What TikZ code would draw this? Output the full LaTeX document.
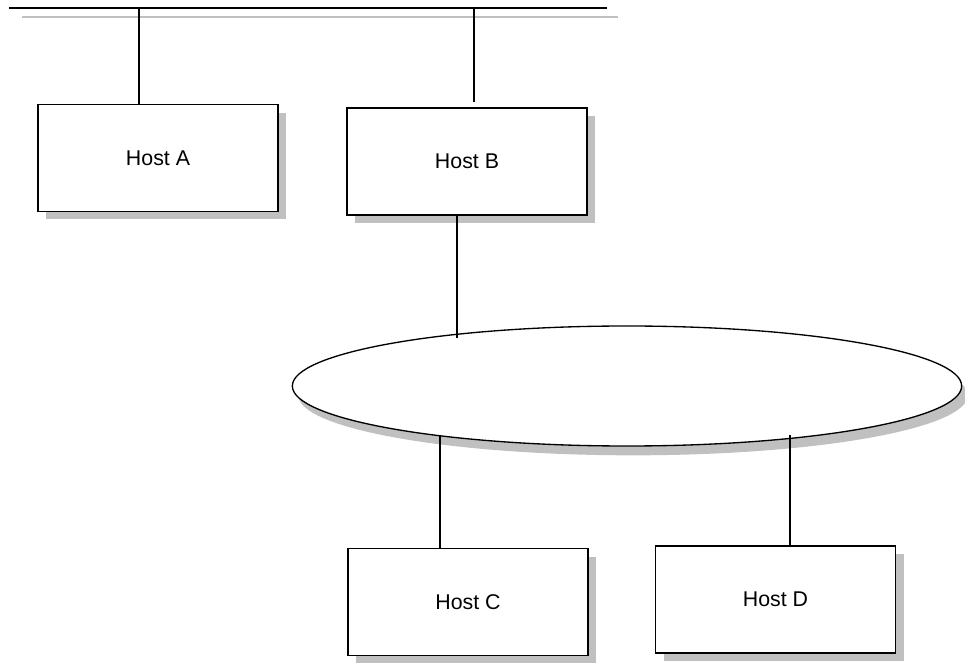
\documentclass[tikz,border=0pt]{standalone}
\usepackage{fontspec}
\setmainfont{Liberation Sans}
\usetikzlibrary{shapes.geometric,shadows}
\definecolor{shadowgray}{RGB}{192,192,192}
\tikzset{
  host/.style={draw, rectangle, fill=white, inner sep=0pt,
    minimum width=180pt, minimum height=80pt,
    font=\fontsize{16}{19}\selectfont,
    drop shadow={shadow xshift=6pt, shadow yshift=-6pt, fill=shadowgray, opacity=1}},
  net/.style={draw, ellipse, fill=white, inner sep=0pt, line width=1pt,
    minimum width=502pt, minimum height=90pt,
    drop shadow={shadow xshift=4.5pt, shadow yshift=-7pt, fill=shadowgray, opacity=1}}}

\begin{document}
\begin{tikzpicture}[x=0.75pt, y=-0.75pt, line width=1.1pt]
                \useasboundingbox (0,0) rectangle (965,666);
                \draw[shadowgray, line width=2pt] (22,17) -- (618,17);
                \draw (9,8) -- (607,8);
                \node[net]  (lan)   at (627,386)   {};
                \node[host] (hostA) at (158,158)   {Host A};
                \node[host] (hostB) at (467,161.5) {Host B};
                \node[host] (hostC) at (468,602)   {Host C};
                \node[host] (hostD) at (775.5,599.5) {Host D};
                \coordinate (tapA) at (139,8);
                \coordinate (tapB) at (474,8);
                \coordinate (lanB) at (457,338);
                \coordinate (lanC) at (440,435);
                \coordinate (lanD) at (790,435);
                \draw (tapA) -- (tapA |- hostA.north);
                \draw (tapB) -- ([yshift=4pt]tapB |- hostB.north);
                \draw (lanB |- hostB.south) -- (lanB);
                \draw (lanC) -- (lanC |- hostC.north);
                \draw (lanD) -- (lanD |- hostD.north);
              \end{tikzpicture}
\end{document}
